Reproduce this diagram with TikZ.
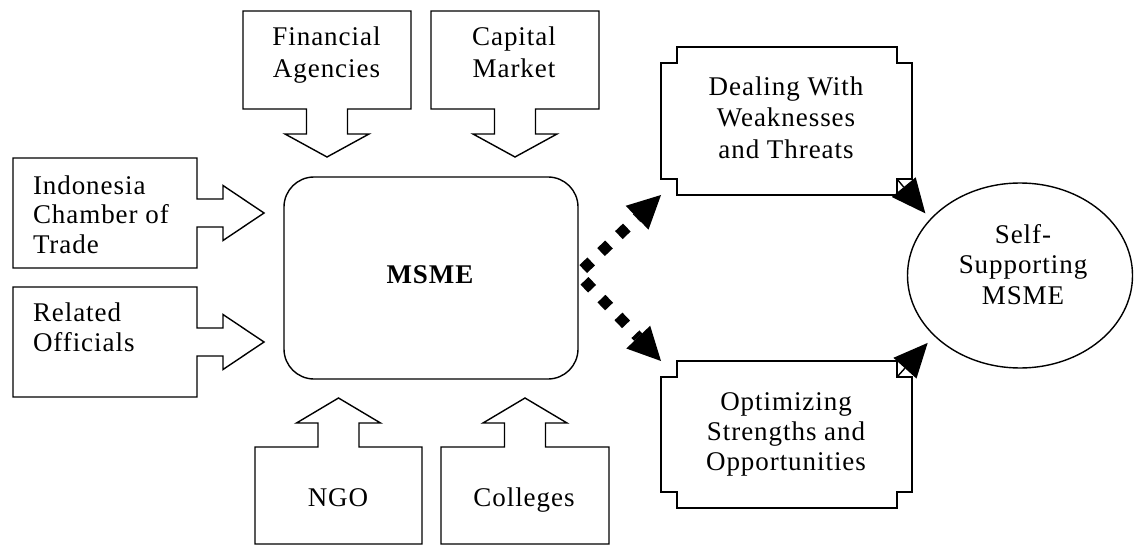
\documentclass[tikz,border=0pt]{standalone}
\usepackage{fontspec}
\setmainfont{Liberation Serif}[LetterSpace=3.5]
\usetikzlibrary{calc,shapes.geometric,arrows.meta}

\tikzset{
  outline/.style={draw=black, line width=1.4pt, line join=miter},
  area/.style={rectangle, inner sep=0pt, outer sep=0pt},
  txt/.style={inner sep=0pt, outer sep=0pt, align=center, font=\fontsize{27}{#1}\selectfont},
  txt/.default=31,
  lefttxt/.style={txt=#1, align=left, anchor=west},
  dotarrow/.style={line width=11pt, dash pattern=on 11pt off 13.6pt,
    -{Triangle[length=33pt,width=33pt,line width=0pt]}},
  solidarrow/.style={line width=1.4pt, -{Triangle[length=34pt,width=31pt,line width=0pt]}}
}

% box with a block arrow pointing down out of its bottom side
\newcommand{\downcallout}[1]{%
  \draw[outline] (#1.south west) -- (#1.north west) -- (#1.north east) -- (#1.south east)
    -- ($(#1.south)+(20.5,0)$) -- ($(#1.south)+(20.5,25)$) -- ($(#1.south)+(42,25)$)
    -- ($(#1.south)+(0,48)$) -- ($(#1.south)+(-42,25)$) -- ($(#1.south)+(-20.5,25)$)
    -- ($(#1.south)+(-20.5,0)$) -- cycle;}
% box with a block arrow pointing up out of its top side
\newcommand{\upcallout}[1]{%
  \draw[outline] (#1.north west) -- (#1.south west) -- (#1.south east) -- (#1.north east)
    -- ($(#1.north)+(20.5,0)$) -- ($(#1.north)+(20.5,-24)$) -- ($(#1.north)+(42,-24)$)
    -- ($(#1.north)+(0,-49)$) -- ($(#1.north)+(-42,-24)$) -- ($(#1.north)+(-20.5,-24)$)
    -- ($(#1.north)+(-20.5,0)$) -- cycle;}
% box with a block arrow pointing right out of its right side
\newcommand{\rightcallout}[1]{%
  \draw[outline] (#1.north east) -- (#1.north west) -- (#1.south west) -- (#1.south east)
    -- ($(#1.east)+(0,14)$) -- ($(#1.east)+(26,14)$) -- ($(#1.east)+(26,27.5)$)
    -- ($(#1.east)+(67,0)$) -- ($(#1.east)+(26,-27.5)$) -- ($(#1.east)+(26,-14)$)
    -- ($(#1.east)+(0,-14)$) -- cycle;}
% rectangle with square notches cut into its four corners
\newcommand{\notchframe}[1]{%
  \draw[outline] ($(#1.north west)+(16,0)$) -- ($(#1.north east)+(-15,0)$)
    -- ($(#1.north east)+(-15,16)$) -- ($(#1.north east)+(0,16)$)
    -- ($(#1.south east)+(0,-16)$) -- ($(#1.south east)+(-15,-16)$)
    -- ($(#1.south east)+(-15,0)$) -- ($(#1.south west)+(16,0)$)
    -- ($(#1.south west)+(16,-16)$) -- ($(#1.south west)+(0,-16)$)
    -- ($(#1.north west)+(0,16)$) -- ($(#1.north west)+(16,16)$) -- cycle;}

\begin{document}
\begin{tikzpicture}[x=1pt,y=-1pt]
\useasboundingbox (0,0) rectangle (1134,545);

% supporting parties
\node[area, minimum width=168pt, minimum height=98pt] (fin) at (327,60) {};
\node[area, minimum width=168pt, minimum height=98pt] (cap) at (515,60) {};
\node[area, minimum width=184pt, minimum height=110pt] (ind) at (105,213) {};
\node[area, minimum width=184pt, minimum height=110pt] (rel) at (105,342) {};
\node[area, minimum width=167pt, minimum height=97pt] (ngo) at (338.5,495.5) {};
\node[area, minimum width=168pt, minimum height=97pt] (col) at (525,495.5) {};

\downcallout{fin}
\downcallout{cap}
\rightcallout{ind}
\rightcallout{rel}
\upcallout{ngo}
\upcallout{col}

\node[txt=32] (fintext) at (326.5,54.8) {Financial\\Agencies};
\node[txt=32] (captext) at (514,52) {Capital\\Market};
\node[lefttxt=29.5] (indtext) at (33,214.5) {Indonesia\\Chamber of\\Trade};
\node[lefttxt=30] (reltext) at (33,327.6) {Related\\Officials};
\node[txt, anchor=base] (ngotext) at (338,506.7) {NGO};
\node[txt, anchor=base] (coltext) at (524,506.7) {Colleges};

% the enterprise itself
\node[draw, line width=1.4pt, rounded corners=30pt, inner sep=0pt, outer sep=0pt,
      minimum width=294pt, minimum height=202pt] (msme) at (431,278) {};
\node[txt, anchor=base, font=\fontsize{27}{31}\selectfont\bfseries] (msmetext) at (430,283.3) {MSME};

% strategies
\node[area, minimum width=251pt, minimum height=148pt] (deal) at (786.5,121) {};
\node[area, minimum width=251pt, minimum height=147pt] (opt) at (786.5,434.5) {};
\notchframe{deal}
\notchframe{opt}
\node[txt=31.3] (dealtext) at (786,117.5) {Dealing With\\Weaknesses\\and Threats};
\node[txt=30] (opttext) at (786,434.5) {Optimizing\\Strengths and\\Opportunities};

% goal
\node[draw, ellipse, line width=1.4pt, inner sep=0pt, outer sep=0pt,
      minimum width=225pt, minimum height=185pt] (self) at (1020,275.5) {};
\node[txt=30.5] (selftext) at (1023,264.5) {Self-\\Supporting\\MSME};

% connectors
\coordinate (msmeout) at ($(msme.east)+(0,-4)$);
\draw[dotarrow, dash phase=17.4pt] (msmeout) -- (deal.south west);
\draw[dotarrow, dash phase=15.2pt] (msmeout) -- (opt.north west);

\coordinate (dealcorner) at ($(deal.south east)+(-15,-16)$);
\coordinate (optcorner) at ($(opt.north east)+(-15,16)$);
\draw[solidarrow, shorten >=8pt] (dealcorner) -- (self.148);
\draw[solidarrow, shorten >=10pt] (optcorner) -- (self.215);
\end{tikzpicture}
\end{document}
